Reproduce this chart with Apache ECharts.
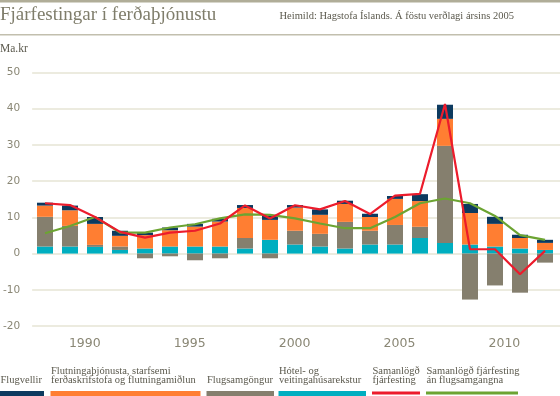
<!DOCTYPE html>
<html><head><meta charset="utf-8">
<script src="https://cdn.jsdelivr.net/npm/echarts@6/dist/echarts.min.js"></script>
<style>html,body{margin:0;padding:0;background:#fff}#c{width:560px;height:396px}</style>
</head><body><div id="c"></div>
<script>
// ---- data ----
const years = [1990,1991,1992,1993,1994,1995,1996,1997,1998,1999,2000,2001,2002,2003,2004,2005,2006,2007,2008,2009,2010];
const xTickLabels = [1990,1995,2000,2005,2010];
const hotel      = [1.95,1.95,1.85,1.0,1.4,1.95,1.95,1.95,1.4,3.8,2.5,1.95,1.4,2.5,2.5,4.3,2.95,2.5,1.95,1.4,1.0];
const flugsam    = [8.2,5.7,0.55,0.95,-1.3,-0.75,-1.85,-1.3,2.9,-1.3,3.8,3.5,7.35,3.8,5.4,3.1,26.8,-12.7,-8.8,-10.8,-2.5];
const flutn      = [3.1,4.3,5.8,2.95,3.7,4.5,5.5,6.9,8.3,5.5,6.4,5.25,4.95,3.8,7.2,7.1,7.45,8.7,6.25,2.9,1.95];
const flugvellir = [0.8,1.3,1.9,1.4,0.7,0.75,0.75,0.75,0.8,1.1,0.7,1.5,0.9,0.9,0.8,1.9,3.9,2.5,1.95,0.9,0.85];
const samtals    = [13.9,13.4,10.1,6.0,4.4,5.8,6.3,8.3,13.3,9.7,13.35,12.2,14.5,10.9,16.0,16.5,41.3,1.2,1.2,-5.7,0.75];
const anFlugs    = [5.6,7.6,10.1,5.8,5.8,7.2,8.1,9.7,10.8,10.7,9.7,8.3,7.0,7.0,10.1,13.9,15.2,13.9,10.4,5.1,3.8];
const yTicks = {min:-20, max:50, interval:10};

const C = {navy:'#0d3a5f', orange:'#ff7e32', gray:'#857f6e', teal:'#00aec0', red:'#ec1c2c', green:'#6ca432'};
const serif = '"Liberation Serif", serif';
const sans = '"DejaVu Sans", sans-serif';
const axisColor = '#8a8775';

const chart = echarts.init(document.getElementById('c'), null, {renderer:'canvas'});

const legendItems = [
  {lines:['Flugvellir'], x:0, w:44, color:C.navy, h:5},
  {lines:['Flutningaþjónusta, starfsemi','ferðaskrifstofa og flutningamiðlun'], x:50.5, w:150, color:C.orange, h:5},
  {lines:['Flugsamgöngur'], x:206.5, w:67.5, color:C.gray, h:5},
  {lines:['Hótel- og','veitingahúsarekstur'], x:278.5, w:87.5, color:C.teal, h:5},
  {lines:['Samanlögð','fjárfesting'], x:372, w:48, color:C.red, h:3},
  {lines:['Samanlögð fjárfesting','án flugsamgangna'], x:426, w:92, color:C.green, h:3}
];
const graphics = [
  {type:'rect', shape:{x:0,y:0,width:560,height:2.5}, style:{fill:'#b0ad98'}},
  {type:'rect', shape:{x:0,y:34,width:560,height:1.5}, style:{fill:'#c2bfae'}},
  {type:'text', x:0, y:25, style:{text:'Fjárfestingar í ferðaþjónustu', font:'19px '+serif, fill:'#7f7d6b', textVerticalAlign:'bottom'}},
  {type:'text', x:514, y:22, style:{text:'Heimild: Hagstofa Íslands. Á föstu verðlagi ársins 2005', font:'10.5px '+serif, fill:'#5b594d', textAlign:'right', textVerticalAlign:'bottom'}},
  {type:'text', x:0, y:55, style:{text:'Ma.kr', font:'11.5px '+serif, fill:'#5b594d', textVerticalAlign:'bottom'}}
];
legendItems.forEach(it => {
  const n = it.lines.length;
  it.lines.forEach((ln, i) => {
    graphics.push({type:'text', x:it.x + 0.5, y:386 - (n-1-i)*9.5, style:{text:ln, font:'10.5px '+serif, fill:'#5b594d', textVerticalAlign:'bottom'}});
  });
  graphics.push({type:'rect', shape:{x:it.x, y:396 - it.h - (it.h<5?1.5:0), width:it.w, height:it.h}, style:{fill:it.color}});
});

const barSeries = (name, data, color) => ({
  name, type:'bar', data, stack:'inv', xAxisIndex:1, yAxisIndex:1, barWidth:16,
  itemStyle:{color}, silent:true, animation:false
});
const lineSeries = (name, data, color) => ({
  name, type:'line', data, xAxisIndex:1, yAxisIndex:1, symbol:'none',
  lineStyle:{color, width:2.2}, itemStyle:{color}, silent:true, animation:false, z:5
});

chart.setOption({
  animation:false,
  graphic:graphics,
  grid:[
    {left:29, right:0, top:72.5, height:253.5},
    {left:32.5, right:2.5, top:72.5, height:253.5}
  ],
  xAxis:[
    {type:'value', gridIndex:0, min:1987.49, max:2012.65,
     axisLine:{show:false}, axisTick:{show:false}, splitLine:{show:false},
     axisLabel:{customValues:xTickLabels, formatter:v=>String(v), color:axisColor, fontFamily:sans, fontSize:12.5, margin:11}},
    {type:'category', gridIndex:1, data:years, show:false}
  ],
  yAxis:[
    {type:'value', gridIndex:0, min:yTicks.min, max:yTicks.max, interval:yTicks.interval,
     axisLine:{show:false}, axisTick:{show:false},
     splitLine:{lineStyle:{color:'#e6e4d4', width:1.5}},
     axisLabel:{color:axisColor, fontFamily:sans, fontSize:10.5, margin:12}},
    {type:'value', gridIndex:1, min:yTicks.min, max:yTicks.max, interval:yTicks.interval, show:false, splitLine:{show:false}}
  ],
  series:[
    barSeries('Hótel- og veitingahúsarekstur', hotel, C.teal),
    barSeries('Flugsamgöngur', flugsam, C.gray),
    barSeries('Flutningaþjónusta, starfsemi ferðaskrifstofa og flutningamiðlun', flutn, C.orange),
    barSeries('Flugvellir', flugvellir, C.navy),
    lineSeries('Samanlögð fjárfesting án flugsamgangna', anFlugs, C.green),
    lineSeries('Samanlögð fjárfesting', samtals, C.red)
  ]
});
</script>
</body></html>
